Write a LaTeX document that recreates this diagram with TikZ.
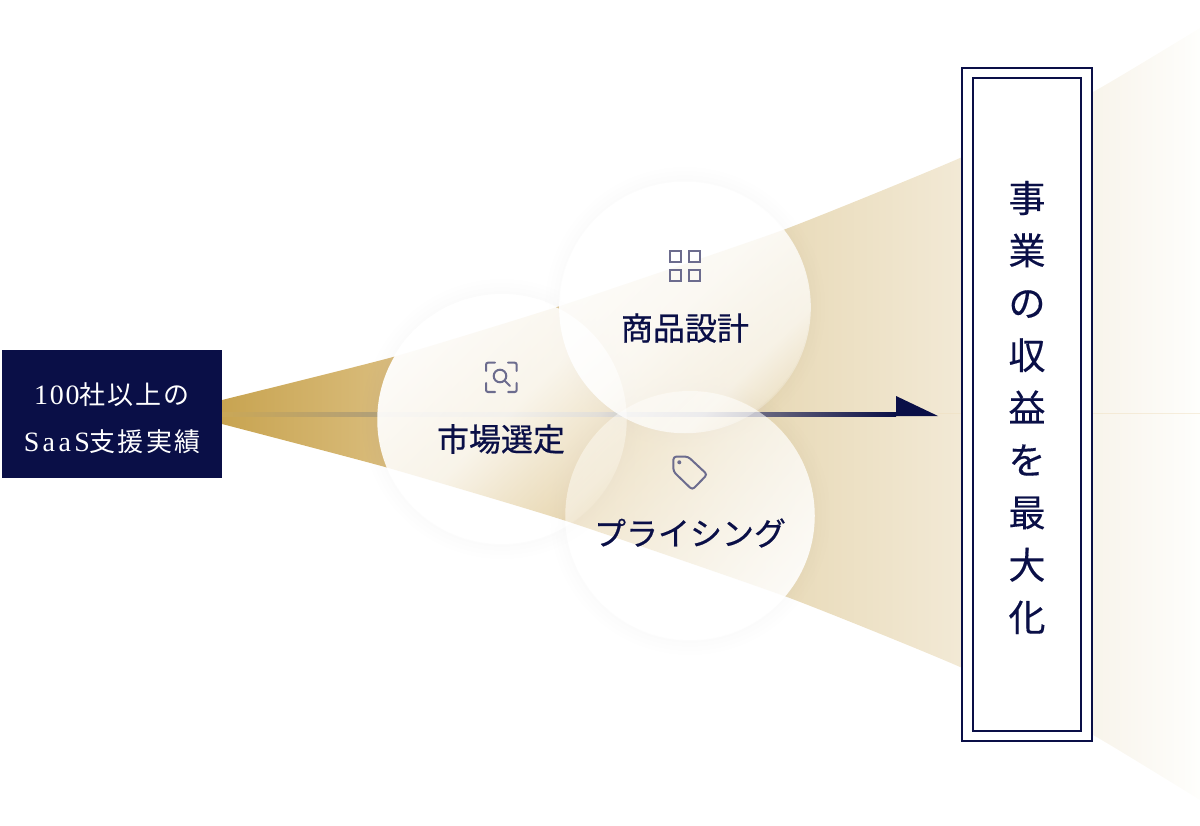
\documentclass[tikz,border=0pt]{standalone}
\usepackage{fontspec}
\usetikzlibrary{fadings,shapes.geometric}
\setmainfont{Noto Sans CJK JP}
\newfontfamily\latinf{Liberation Serif}
\newfontfamily\lblf[FakeBold=0.6]{Noto Sans CJK JP}
\newfontfamily\vertf[FakeBold=0.35]{Noto Sans CJK JP}
\definecolor{navy}{HTML}{0A0F47}
\definecolor{iconc}{HTML}{6C6C8E}
\definecolor{faintl}{HTML}{F0E0C0}
\definecolor{c1}{HTML}{C8A451}
\definecolor{c2}{HTML}{DABD7D}
\definecolor{c3}{HTML}{E9DBBA}
\definecolor{c4}{HTML}{F2E9D5}
\definecolor{c5}{HTML}{F8F4EB}
\definecolor{c6}{HTML}{FEFEFC}
\definecolor{l1}{HTML}{C9A757}
\definecolor{l2}{HTML}{B3A077}
\definecolor{l3}{HTML}{C4BDAE}
\definecolor{l4}{HTML}{6A6880}
\pgfdeclarehorizontalshading{coneshade}{100bp}{
  color(0bp)=(c1); color(25bp)=(c1); color(33.74bp)=(c2); color(53.79bp)=(c3);
  color(62.73bp)=(c4); color(69.53bp)=(c5); color(75bp)=(c6); color(100bp)=(c6)}
\pgfdeclarehorizontalshading{lineshade}{100bp}{
  color(0bp)=(l1); color(25bp)=(l1); color(36bp)=(l2); color(53bp)=(l3);
  color(64.9bp)=(l4); color(75bp)=(navy); color(100bp)=(navy)}
\pgfdeclareverticalshading{fsA}{100bp}{
  color(0bp)=(transparent!90); color(25bp)=(transparent!90); color(28bp)=(transparent!70);
  color(44.5bp)=(transparent!30); color(50bp)=(transparent!18); color(75bp)=(transparent!4); color(100bp)=(transparent!4)}
\pgfdeclarefading{fadeA}{\pgfuseshading{fsA}}
\pgfdeclareverticalshading{fsB}{100bp}{
  color(0bp)=(transparent!80); color(25bp)=(transparent!80); color(26bp)=(transparent!68);
  color(32.5bp)=(transparent!35); color(50bp)=(transparent!15); color(75bp)=(transparent!3); color(100bp)=(transparent!3)}
\pgfdeclarefading{fadeB}{\pgfuseshading{fsB}}
\tikzfading[name=fadeC, top color=transparent!58, bottom color=transparent!12]
\tikzset{
  lbl/.style={text=navy, font=\fontsize{32}{32}\lblf, inner sep=0pt},
  ic/.style={draw=iconc, line width=2pt},
  halo/.style={black!30, opacity=.01, even odd rule},
}
\begin{document}
\begin{tikzpicture}[x=1pt,y=-1pt]
\useasboundingbox (0,0) rectangle (1200,826);
% cone
\shade[shading=coneshade]
  plot[smooth,tension=.3] coordinates {(222,400) (393,357) (560,306) (783,230) (960,158) (1093,92) (1200,28)}
  -- plot[smooth,tension=.3] coordinates {(1200,800) (1093,735) (960,667) (787,597) (563,520) (385,467) (222,424)} -- cycle;
% faint continuation
\draw[draw=faintl,opacity=.5,line width=.8pt] (938,413.5) -- (1200,413.5);
% source
\node[fill=navy, minimum width=220pt, minimum height=128pt, inner sep=0pt, outer sep=0pt] (source) at (112,414) {};
\node[text=white, inner sep=0pt, align=center, font=\fontsize{26}{47}\selectfont\addfontfeature{LetterSpace=8}] (sourcetxt) at (112,418)
  {{\latinf\fontsize{28}{47}\selectfont\addfontfeature{LetterSpace=6}100}社以上の\\
   {\latinf\fontsize{28}{47}\selectfont\addfontfeature{LetterSpace=12}SaaS}支援実績};
% arrow
\coordinate (lineA) at (222,412);
\coordinate (lineB) at (896,416);
\coordinate (tipT) at (896,396);
\coordinate (tipE) at (938,416);
\shade[shading=lineshade] (lineA) rectangle (lineB);
\fill[navy] (tipT) -- (tipE) -- (lineB) -- cycle;
% halos
\foreach \c/\q in {(502,419)/1,(685,307)/2,(690,515)/3}{
  \foreach \r in {128,132,136,140}{
    \fill[halo] \c circle[radius=125] \c circle[radius=\r];
  }
}
% circles
\fill[white, path fading=fadeA, fading angle=45] (502,419) circle[radius=125];
\fill[white, path fading=fadeB, fading angle=45] (685,307) circle[radius=126];
\fill[white, path fading=fadeC, fading angle=45] (690,515) circle[radius=125];
% labels
\node[lbl] (market) at (501,439) {市場選定};
\node[lbl] (product) at (685,328) {商品設計};
\node[lbl] (pricing) at (690,533) {プライシング};
% grid icon
\draw[ic] (670,251) rectangle (681,262);
\draw[ic] (689,251) rectangle (700,262);
\draw[ic] (670,270) rectangle (681,281);
\draw[ic] (689,270) rectangle (700,281);
% search icon
\draw[ic,rounded corners=2pt,line cap=round] (486,371) -- (486,362.7) -- (495,362.7);
\draw[ic,rounded corners=2pt,line cap=round] (508,362.7) -- (516.7,362.7) -- (516.7,371);
\draw[ic,rounded corners=2pt,line cap=round] (516.7,383) -- (516.7,392) -- (508,392);
\draw[ic,rounded corners=2pt,line cap=round] (495,392) -- (486,392) -- (486,383);
\draw[ic] (500,376) circle[radius=6.3];
\draw[ic,line cap=round] (504.7,380.7) -- (510,386);
% tag icon
\draw[ic,rounded corners=3pt] (673.4,456.6) -- (688,456.6) -- (707.2,474.5) -- (692.3,489.8) -- (673.4,471.5) -- cycle;
\fill[iconc] (679.3,462.3) circle[radius=2];
% target
\node[draw=navy, fill=white, line width=2pt, minimum width=130pt, minimum height=673pt, inner sep=0pt] (target) at (1027,404.5) {};
\node[draw=navy, fill=white, line width=2pt, minimum width=108pt, minimum height=653pt, inner sep=0pt] (targetinner) at (1027,404.5) {};
\node[text=navy, inner sep=0pt, align=center, font=\fontsize{37}{52.4}\vertf] (targettxt) at (1027,407.5)
  {事\\業\\の\\収\\益\\を\\最\\大\\化};
\end{tikzpicture}
\end{document}
